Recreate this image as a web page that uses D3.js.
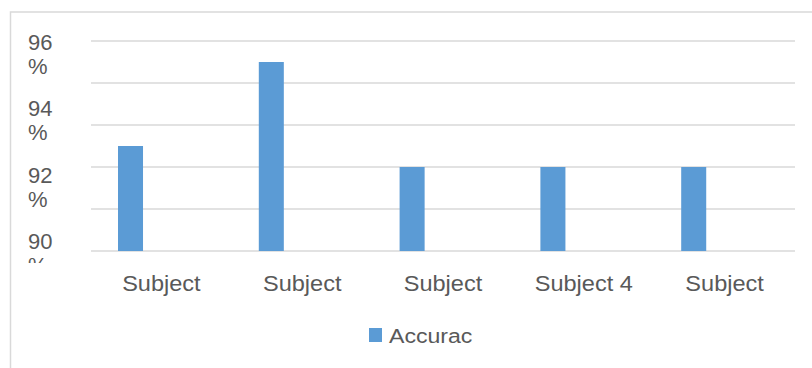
<!DOCTYPE html>
<html>
<head>
<meta charset="utf-8">
<script src="https://cdn.jsdelivr.net/npm/d3@7"></script>
<style>
  body { margin: 0; background: #fff; }
  svg { display: block; font-family: Arial, "Liberation Sans", sans-serif; }
</style>
</head>
<body>
<svg id="chart"></svg>
<script>
// data
let categories = ['Subject 1', 'Subject 2', 'Subject 3', 'Subject 4', 'Subject 5'];
let tickLabels = ['Subject', 'Subject', 'Subject', 'Subject 4', 'Subject'];
let seriesNames = ['Accuracy', 'Series 2'];
let accuracy = [93, 95.4, 92.4, 92.4, 92.4];
let gridTicks = [90, 91.2, 92.4, 93.6, 94.8, 96];
let yLabelTicks = [96, 94, 92, 90];
let legendLabel = 'Accurac';

function renderChart(svg) {
  svg = d3.select(svg);
  let width = 812;
  let height = 368;
  svg.attr('width', width).attr('height', height);

  let textColor = '#595959';
  let gridColor = '#d9d9d9';
  let barColor = '#5b9bd5';

  // chart frame (runs off right and bottom)
  svg
    .append('rect')
    .attr('x', 10.5)
    .attr('y', 12)
    .attr('width', width + 10)
    .attr('height', height + 10)
    .attr('fill', 'none')
    .attr('stroke', gridColor)
    .attr('stroke-width', 1.5);

  let x0 = d3.scaleBand().domain(categories).range([91, 795]);
  let x1 = d3
    .scaleBand()
    .domain(seriesNames)
    .range([0, x0.bandwidth()])
    .paddingInner(0.595)
    .paddingOuter(0.437);
  let y = d3.scaleLinear().domain([90, 96]).range([251, 41]);
  // the wrapped value labels sit on a slightly tighter spacing
  let yLabel = d3.scaleLinear().domain([90, 96]).range([249, 50]);

  // gridlines
  svg
    .append('g')
    .attr('class', 'grid')
    .selectAll('line')
    .data(gridTicks)
    .enter()
    .append('line')
    .attr('x1', x0.range()[0])
    .attr('x2', x0.range()[1])
    .attr('y1', d => y(d))
    .attr('y2', d => y(d))
    .attr('stroke', gridColor)
    .attr('stroke-width', 1.5);

  // bars
  svg
    .append('g')
    .attr('class', 'bars')
    .selectAll('rect')
    .data(accuracy)
    .enter()
    .append('rect')
    .attr('x', (d, i) => x0(categories[i]) + x1(seriesNames[0]))
    .attr('width', x1.bandwidth())
    .attr('y', d => y(d))
    .attr('height', d => y(90) - y(d))
    .attr('fill', barColor);

  // value axis labels, wrapped to two lines and clipped at the bottom
  svg
    .append('clipPath')
    .attr('id', 'yclip')
    .append('rect')
    .attr('x', 0)
    .attr('y', 0)
    .attr('width', 90)
    .attr('height', 263);

  let yl = svg
    .append('g')
    .attr('clip-path', 'url(#yclip)')
    .selectAll('text')
    .data(yLabelTicks)
    .enter()
    .append('text')
    .attr('x', 28)
    .attr('y', d => yLabel(d))
    .attr('fill', textColor)
    .style('font-size', '22px');
  yl.append('tspan').attr('x', 28).text(d => d);
  yl.append('tspan').attr('x', 28).attr('dy', 24).text('%');

  // category labels
  svg
    .append('g')
    .selectAll('text')
    .data(categories)
    .enter()
    .append('text')
    .attr('x', d => x0(d) + x0.bandwidth() / 2)
    .attr('y', 291)
    .attr('text-anchor', 'middle')
    .attr('fill', textColor)
    .style('font-size', '22px')
    .attr('transform', d => {
      let cx = x0(d) + x0.bandwidth() / 2;
      return 'translate(' + cx + ',0) scale(1.07,1) translate(' + -cx + ',0)';
    })
    .text((d, i) => tickLabels[i]);

  // legend
  let legend = svg.append('g').attr('transform', 'translate(369,328)');
  legend
    .append('rect')
    .attr('width', 13)
    .attr('height', 14)
    .attr('fill', barColor);
  legend
    .append('text')
    .attr('x', 20)
    .attr('y', 14.5)
    .attr('fill', textColor)
    .style('font-size', '21px')
    .attr('transform', 'translate(20,0) scale(1.1,1) translate(-20,0)')
    .text(legendLabel);
}

renderChart(document.getElementById('chart'));
</script>
</body>
</html>
